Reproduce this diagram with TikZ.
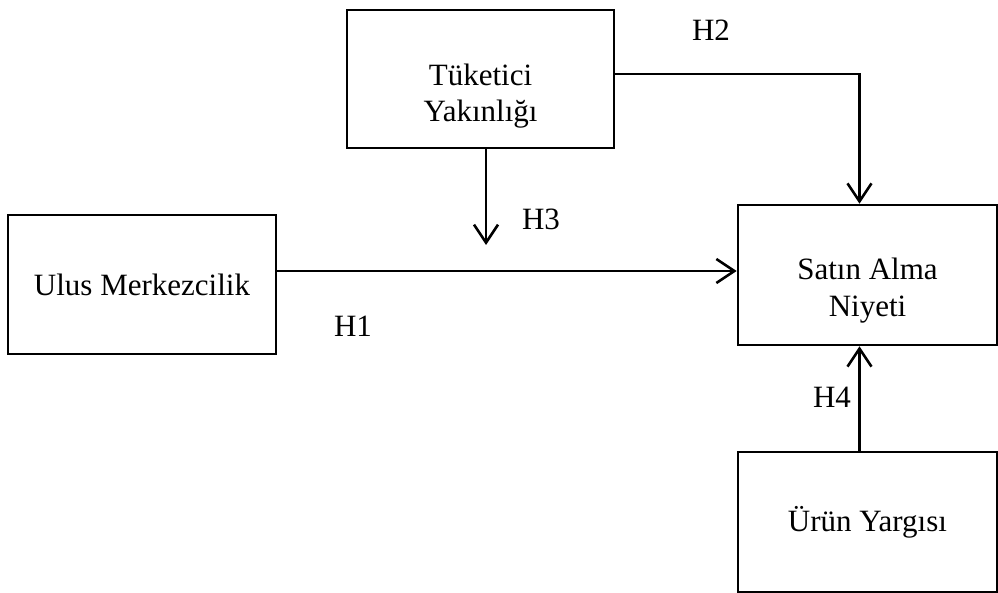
\documentclass[tikz,border=0pt]{standalone}
\usepackage{fontspec}
\setmainfont{Liberation Serif}
\usetikzlibrary{arrows.meta, positioning}

\tikzset{
  varbox/.style={draw, line width=1.3pt, inner sep=0pt, align=center},
  hlabel/.style={inner sep=0pt},
}

\begin{document}
\begin{tikzpicture}[x=0.5pt, y=-0.5pt, >={Straight Barb[length=9pt,width=12pt]}, line width=1.3pt,
  font=\fontsize{15.5}{18.5}\selectfont]

\useasboundingbox (0,0) rectangle (998,593);

% Boxes for the variables
\node[varbox, minimum width=133.5pt, minimum height=69pt,
  label={[yshift=-8.75pt, align=center, font=\fontsize{15.5}{18}\selectfont]center:{Tüketici\\Yakınlığı}}]
  (tuk) at (480.5,79) {};
\node[varbox, minimum width=134pt, minimum height=69.5pt] (ulus) at (142,284.5) {Ulus Merkezcilik};
\node[varbox, minimum width=129.5pt, minimum height=70pt,
  label={[yshift=-8pt, align=center]center:{Satın Alma\\Niyeti}}]
  (satin) at (867.5,275) {};
\node[varbox, minimum width=129.5pt, minimum height=70pt] (urun) at (867.5,522) {Ürün Yargısı};

% Paths H1 to H4
\coordinate (h3end) at (486,245);
\draw[->] ([yshift=2pt]ulus.east |- satin.west) -- ([yshift=2pt]satin.west);
\draw[->] ([yshift=2.5pt]tuk.east) -- ([xshift=-4pt,yshift=2.5pt]tuk.east -| satin.north) -- ([xshift=-4pt]satin.north);
\draw[->] (tuk.south -| h3end) -- (h3end);
\draw[->] ([xshift=-4pt]urun.north) -- ([xshift=-4pt]satin.south);

% Labels for the hypotheses
\node[hlabel] (h1) at (353,326) {H1};
\node[hlabel] (h2) at (711,30) {H2};
\node[hlabel] (h3) at (541,219) {H3};
\node[hlabel] (h4) at (832,397) {H4};

\end{tikzpicture}
\end{document}
